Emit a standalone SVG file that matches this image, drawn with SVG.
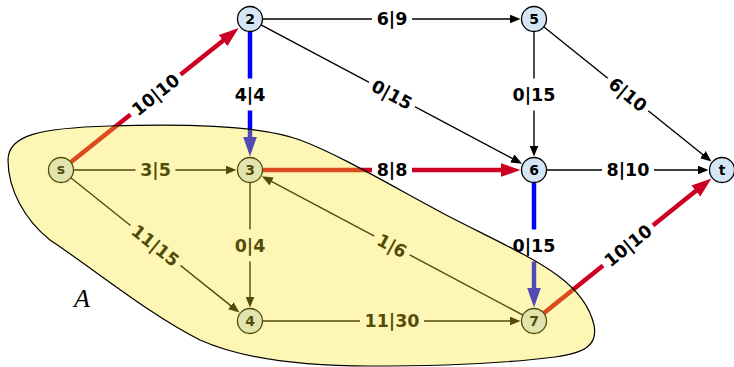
<svg xmlns="http://www.w3.org/2000/svg" width="734" height="367" viewBox="0 0 734 367">
<style>
.e{stroke:#000;stroke-width:1.4;fill:none}
.r{stroke:#cc0022;stroke-width:4.5;fill:none}
.b{stroke:#0000ff;stroke-width:4.5;fill:none}
.bg{fill:#fff}
.lbl{font-family:"DejaVu Sans",sans-serif;font-weight:bold;font-size:17.5px;text-anchor:middle;fill:#000}
.node{fill:#d4e5f6;stroke:#000;stroke-width:1.3}
.nl{font-family:"DejaVu Sans",sans-serif;font-weight:bold;font-size:14px;text-anchor:middle;fill:#000}
.blob{fill:#fbe51c;fill-opacity:0.33;stroke:#000;stroke-width:1.2}
</style>
<defs>
<marker id="ak" markerUnits="userSpaceOnUse" markerWidth="12" markerHeight="10" refX="3" refY="4.5" orient="auto"><path d="M0,0 L11,4.5 L0,9 Z" fill="#000"/></marker>
<marker id="ar" markerUnits="userSpaceOnUse" markerWidth="21" markerHeight="15" refX="3" refY="7" orient="auto"><path d="M0,0 L20,7 L0,14 Z" fill="#cc0022"/></marker>
<marker id="ab" markerUnits="userSpaceOnUse" markerWidth="21" markerHeight="15" refX="3" refY="7" orient="auto"><path d="M0,0 L20,7 L0,14 Z" fill="#0000ff"/></marker>
</defs>
<g id="connectors">
<line class="r" x1="70.8" y1="162.2" x2="225.4" y2="38.7" marker-end="url(#ar)"/>
<line class="e" x1="262.5" y1="19" x2="512.5" y2="19" marker-end="url(#ak)"/>
<line class="b" x1="250" y1="31.5" x2="250" y2="139.5" marker-end="url(#ab)"/>
<line class="e" x1="261" y1="24.9" x2="515" y2="159.9" marker-end="url(#ak)"/>
<line class="e" x1="534" y1="31.5" x2="534" y2="148.5" marker-end="url(#ak)"/>
<line class="e" x1="543.7" y1="26.8" x2="705.2" y2="156.5" marker-end="url(#ak)"/>
<line class="e" x1="73.5" y1="170" x2="228.5" y2="170" marker-end="url(#ak)"/>
<line class="r" x1="262.5" y1="170" x2="503.5" y2="170" marker-end="url(#ar)"/>
<line class="e" x1="546.5" y1="170" x2="700.5" y2="170" marker-end="url(#ak)"/>
<line class="e" x1="70.8" y1="177.8" x2="233.2" y2="307.6" marker-end="url(#ak)"/>
<line class="e" x1="250" y1="182.5" x2="250" y2="299.5" marker-end="url(#ak)"/>
<line class="e" x1="523" y1="315.1" x2="269" y2="180.1" marker-end="url(#ak)"/>
<line class="b" x1="534" y1="182.5" x2="534" y2="290.5" marker-end="url(#ab)"/>
<line class="r" x1="543.7" y1="313.2" x2="698.2" y2="189.1" marker-end="url(#ar)"/>
<line class="e" x1="262.5" y1="321" x2="512.5" y2="321" marker-end="url(#ak)"/>
<g transform="translate(155.5,94.5) rotate(-38.6)"><rect class="bg" x="-32" y="-6" width="64" height="12"/><text class="lbl" y="6.4">10|10</text></g>
<g transform="translate(392,19)"><rect class="bg" x="-20" y="-6" width="40" height="12"/><text class="lbl" y="6.4">6|9</text></g>
<g transform="translate(250,94.5)"><rect class="bg" x="-8" y="-16" width="16" height="32"/><text class="lbl" y="6.4">4|4</text></g>
<g transform="translate(392,94.5) rotate(28)"><rect class="bg" x="-26" y="-6" width="52" height="12"/><text class="lbl" y="6.4">0|15</text></g>
<g transform="translate(534,94.5)"><rect class="bg" x="-8" y="-16" width="16" height="32"/><text class="lbl" y="6.4">0|15</text></g>
<g transform="translate(628,94.5) rotate(38.8)"><rect class="bg" x="-26" y="-6" width="52" height="12"/><text class="lbl" y="6.4">6|10</text></g>
<g transform="translate(155.5,170)"><rect class="bg" x="-20" y="-6" width="40" height="12"/><text class="lbl" y="6.4">3|5</text></g>
<g transform="translate(392,170)"><rect class="bg" x="-20" y="-6" width="40" height="12"/><text class="lbl" y="6.4">8|8</text></g>
<g transform="translate(628,170)"><rect class="bg" x="-26" y="-6" width="52" height="12"/><text class="lbl" y="6.4">8|10</text></g>
<g transform="translate(155.5,245.5) rotate(38.6)"><rect class="bg" x="-32" y="-6" width="64" height="12"/><text class="lbl" y="6.4">11|15</text></g>
<g transform="translate(250,245.5)"><rect class="bg" x="-8" y="-16" width="16" height="32"/><text class="lbl" y="6.4">0|4</text></g>
<g transform="translate(392,245.5) rotate(28)"><rect class="bg" x="-20" y="-6" width="40" height="12"/><text class="lbl" y="6.4">1|6</text></g>
<g transform="translate(534,245.5)"><rect class="bg" x="-8" y="-16" width="16" height="32"/><text class="lbl" y="6.4">0|15</text></g>
<g transform="translate(628,245.5) rotate(-38.8)"><rect class="bg" x="-32" y="-6" width="64" height="12"/><text class="lbl" y="6.4">10|10</text></g>
<g transform="translate(392,321)"><rect class="bg" x="-32" y="-6" width="64" height="12"/><text class="lbl" y="6.4">11|30</text></g>
</g>
<g id="node-s"><circle class="node" cx="61" cy="170" r="12.5"/><text class="nl" x="61" y="174.2">s</text></g>
<g id="node-2"><circle class="node" cx="250" cy="19" r="12.5"/><text class="nl" x="250" y="24">2</text></g>
<g id="node-5"><circle class="node" cx="534" cy="19" r="12.5"/><text class="nl" x="534" y="24">5</text></g>
<g id="node-3"><circle class="node" cx="250" cy="170" r="12.5"/><text class="nl" x="250" y="175">3</text></g>
<g id="node-6"><circle class="node" cx="534" cy="170" r="12.5"/><text class="nl" x="534" y="175">6</text></g>
<g id="node-t"><circle class="node" cx="722" cy="170" r="12.5"/><text class="nl" x="722" y="175">t</text></g>
<g id="node-4"><circle class="node" cx="250" cy="321" r="12.5"/><text class="nl" x="250" y="326">4</text></g>
<g id="node-7"><circle class="node" cx="534" cy="321" r="12.5"/><text class="nl" x="534" y="326">7</text></g>
<g id="region-A">
<path class="blob" d="M8,160 C8,135 40,128 110,126 C200,123 265,127 300,140 C340,155 390,185 450,217 C530,258 583,278 594,325 C598,345 585,353 555,357 C500,364 430,366 370,366 C300,366 240,358 200,340 C150,315 95,270 50,240 C25,220 8,190 8,160 Z"/>
<text x="74" y="307" font-family="Liberation Serif, serif" font-style="italic" font-size="26">A</text>
</g>
</svg>
